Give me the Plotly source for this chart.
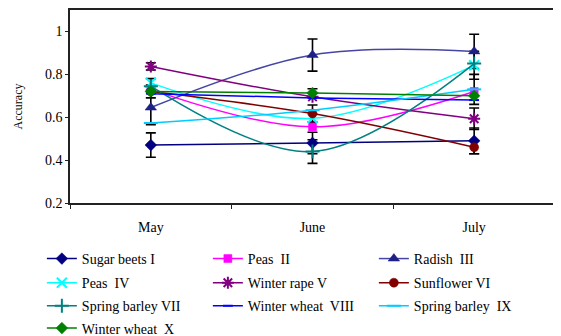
import plotly.graph_objects as go

months = ["May", "June", "July"]

names = ["Sugar beets I", "Peas  II", "Radish  III", "Peas  IV", "Winter rape V",
         "Sunflower VI", "Spring barley VII", "Winter wheat  VIII", "Spring barley  IX",
         "Winter wheat  X"]

sugar_beets_1 = [0.47, 0.48, 0.49]
peas_2 = [0.73, 0.555, 0.72]
radish_3 = [0.645, 0.89, 0.907]
peas_4 = [0.76, 0.595, 0.842]
winter_rape_5 = [0.837, 0.695, 0.593]
sunflower_6 = [0.72, 0.617, 0.46]
spring_barley_7 = [0.745, 0.44, 0.85]
winter_wheat_8 = [0.71, 0.69, 0.68]
spring_barley_9 = [0.573, 0.633, 0.73]
winter_wheat_10 = [0.72, 0.713, 0.70]

# error bar half-widths (None = no error bar)
err_1 = [0.057, 0.05, 0.06]
err_2 = [None, None, None]
err_3 = [0.08, 0.075, 0.08]
err_4 = [0.02, None, 0.065]
err_5 = [0.017, None, 0.05]
err_6 = [0.03, 0.04, 0.03]
err_7 = [None, 0.055, None]
err_8 = [None, None, None]
err_9 = [None, None, 0.07]
err_10 = [None, 0.02, None]

series = [sugar_beets_1, peas_2, radish_3, peas_4, winter_rape_5, sunflower_6,
          spring_barley_7, winter_wheat_8, spring_barley_9, winter_wheat_10]
errors = [err_1, err_2, err_3, err_4, err_5, err_6, err_7, err_8, err_9, err_10]

line_colors = ["#000080", "#FF00FF", "#4545A5", "#00FFFF", "#800080",
               "#800000", "#008080", "#0000FF", "#00CCFF", "#008000"]
marker_colors = ["#000080", "#FF00FF", "#1F1F8A", "#00FFFF", "#800080",
                 "#800000", "#008080", "#0000FF", "#00CCFF", "#008000"]
symbols = ["diamond", "square", "triangle-up", "x-thin-open", "asterisk-open",
           "circle", "cross-thin-open", "line-ew-open", "line-ew-open", "diamond"]
sizes = [9, 8, 10, 10, 10, 9, 10, 7, 10, 9]
legend_ids = ["legend", "legend", "legend",
              "legend2", "legend2", "legend2",
              "legend3", "legend3", "legend3",
              "legend4"]

font = "Liberation Serif"
fig = go.Figure()

# error bars (black) drawn first
for vals, err in zip(series, errors):
    xs = [m for m, e in zip(months, err) if e is not None]
    ys = [v for v, e in zip(vals, err) if e is not None]
    es = [e for e in err if e is not None]
    if not xs:
        continue
    fig.add_trace(go.Scatter(
        x=xs, y=ys, mode="markers", marker=dict(opacity=0, size=1),
        error_y=dict(type="data", array=es, color="black", thickness=1.6, width=5),
        showlegend=False, hoverinfo="skip"))

for name, vals, lc, mc, sym, sz, lg in zip(names, series, line_colors, marker_colors,
                                           symbols, sizes, legend_ids):
    fig.add_trace(go.Scatter(
        x=months, y=vals, name=name, mode="lines+markers", legend=lg,
        line=dict(color=lc, width=1.5, shape="spline", smoothing=1),
        marker=dict(symbol=sym, size=sz, color=mc,
                    line=dict(color=mc, width=2 if "open" in sym else 0.5))))

def leg(yc):
    return dict(orientation="h", x=-0.058, xanchor="left", y=yc, yanchor="middle",
                entrywidth=121, entrywidthmode="pixels",
                font=dict(family=font, size=14, color="black"),
                bgcolor="rgba(0,0,0,0)", itemclick=False)

fig.update_layout(
    width=553, height=328,
    margin=dict(l=62, r=6, t=2, b=133, autoexpand=False),
    paper_bgcolor="white", plot_bgcolor="white",
    font=dict(family=font, size=13, color="black"),
    showlegend=True,
    legend=leg(-0.290), legend2=leg(-0.415), legend3=leg(-0.534), legend4=leg(-0.650),
    xaxis=dict(range=[-0.5, 2.5], showline=True, linecolor="#222222", linewidth=1.5,
               mirror=True, ticks="outside", tickson="boundaries", ticklen=4,
               tickcolor="#222222", showgrid=False, zeroline=False, ticklabelstandoff=10,
               tickfont=dict(family=font, size=14)),
    yaxis=dict(range=[0.2, 1.1], tickvals=[0.2, 0.4, 0.6, 0.8, 1.0],
               ticktext=["0.2", "0.4", "0.6", "0.8", "1"],
               showline=True, linecolor="#222222", linewidth=1.5, mirror=True,
               ticks="outside", ticklen=3, tickcolor="#222222", showgrid=False,
               zeroline=False, tickfont=dict(family=font, size=14),
               title=dict(text="Accuracy", font=dict(family=font, size=12), standoff=20)),
)

fig.write_html("out.html")
